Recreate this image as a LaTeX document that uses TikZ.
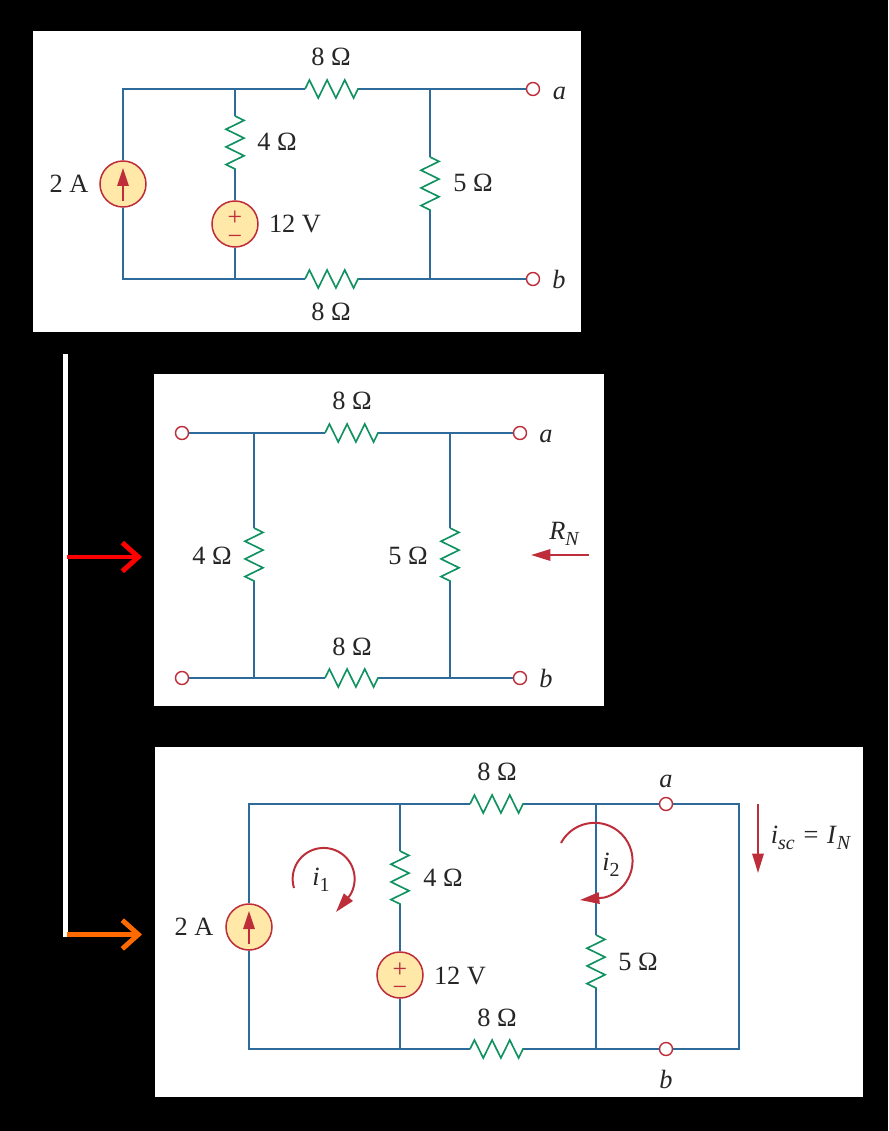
\documentclass[tikz,border=0pt]{standalone}
\usepackage{fontspec}
\setmainfont{Liberation Serif}
\usetikzlibrary{arrows.meta,decorations.pathmorphing}
\definecolor{wireblue}{HTML}{2F6B9A}
\definecolor{resgreen}{HTML}{0F9160}
\definecolor{srcred}{HTML}{BE2E3A}
\definecolor{srcfill}{HTML}{FFE8A8}
\definecolor{feedorange}{HTML}{FF6A00}
\newcommand{\lowsub}[1]{\raisebox{-0.25em}{\fontsize{17}{17}\selectfont #1}}
\tikzset{
    wire/.style={draw=wireblue,line width=1.4pt,line join=miter},
    resistor/.style={draw=resgreen,line width=1.4pt,decorate,
        decoration={zigzag,amplitude=0.27cm,segment length=0.53cm}},
    srcnode/.style={circle,draw=srcred,fill=srcfill,line width=1.3pt,minimum size=1.38cm,inner sep=0pt},
    terminal/.style={circle,draw=srcred,fill=white,line width=1.2pt,minimum size=0.39cm,inner sep=0pt},
    lbl/.style={anchor=base,inner sep=0pt,text=black!85,font=\fontsize{22.5}{24}\selectfont},
    sign/.style={anchor=base,inner sep=0pt,text=srcred,font=\fontsize{22}{22}\selectfont},
    redarrow/.style={draw=srcred,line width=1.7pt,-{Stealth[length=0.58cm,width=0.34cm,inset=0pt]}},
    srcarrow/.style={draw=srcred,line width=1.7pt,-{Stealth[length=0.54cm,width=0.34cm,inset=0pt]}},
    feedarrow/.style={line width=4.2pt,-{Straight Barb[length=0.48cm,width=0.86cm]}},
    panel/.style={fill=white,draw=none}
}
\begin{document}
\begin{tikzpicture}[x=0.03cm,y=-0.03cm]
    \useasboundingbox (0,0) rectangle (888,1131);
    \fill[black] (0,0) rectangle (888,1131);
    \fill[panel] (33,31) rectangle (581,332);
    \fill[panel] (154,374) rectangle (604,706);
    \fill[panel] (155,747) rectangle (863,1097);

    % named points of the wires
    \foreach \n/\x/\y in {ta/123/89,ja/235/89,ka/305/89,la/359/89,ma/430/89,
        tb/123/279,jb/235/279,kb/305/279,lb/359/279,mb/430/279,
        ua/235/116,va/235/170,wa/430/157,xa/430/211,
        jc/254/433,kc/325/433,lc/379/433,mc/450/433,
        jd/254/678,kd/325/678,ld/379/678,md/450/678,
        ue/254/528,ve/254/582,we/450/528,xe/450/582,
        tf/249/804,jf/400/804,kf/470/804,lf/524/804,mf/596/804,nf/739/804,
        tg/249/1049,jg/400/1049,kg/470/1049,lg/524/1049,mg/596/1049,ng/739/1049,
        uh/400/851,vh/400/905,wh/596/935,xh/596/989} {
        \coordinate (\n) at (\x,\y);
    }

    % sources and terminals
    \foreach \n/\x/\y in {isa/123/184,vsa/235/224,isc/249/927,vsc/400/975} {
        \node[srcnode] (\n) at (\x,\y) {};
    }
    \foreach \n/\x/\y in {aa/533/89,ba/533/279,lu/182/433,ll/182/678,
        ab/520/433,bb/520/678,ac/666/804,bc/666/1049} {
        \node[terminal] (\n) at (\x,\y) {};
    }

    % first circuit
    \draw[wire] (isa) -- (ta) -- (ka) (la) -- (aa) (isa) -- (tb) -- (kb) (lb) -- (ba);
    \draw[wire] (ja) -- (ua) (va) -- (vsa) -- (jb) (ma) -- (wa) (xa) -- (mb);
    % second circuit
    \draw[wire] (lu) -- (kc) (lc) -- (ab) (ll) -- (kd) (ld) -- (bb);
    \draw[wire] (jc) -- (ue) (ve) -- (jd) (mc) -- (we) (xe) -- (md);
    % third circuit
    \draw[wire] (isc) -- (tf) -- (kf) (lf) -- (ac) (ac) -- (nf) -- (ng) -- (bc) (bc) -- (lg) (kg) -- (tg) -- (isc);
    \draw[wire] (jf) -- (uh) (vh) -- (vsc) -- (jg) (mf) -- (wh) (xh) -- (mg);

    \foreach \p/\q in {ka/la,kb/lb,ua/va,wa/xa,kc/lc,kd/ld,ue/ve,we/xe,kf/lf,kg/lg,uh/vh,wh/xh} {
        \draw[resistor] (\p) -- (\q);
    }

    % arrows and signs in the sources
    \foreach \n in {isa,isc} {
        \draw[srcarrow] ([yshift=-0.51cm]\n.center) -- ([yshift=0.48cm]\n.center);
    }
    \foreach \n in {vsa,vsc} {
        \node[sign] (\n p) at ([yshift=-0.06cm]\n.center) {+};
        \node[sign] (\n m) at ([yshift=-0.615cm]\n.center) {−};
    }

    % y values are baselines
    \foreach \n/\x/\y/\t in {oa/331/66/8 Ω,ob/331/320/8 Ω,oc/277/151/4 Ω,od/473/192/5 Ω,
        oe/69/193/2 A,of/295/233/12 V,
        pa/352/409/8 Ω,pb/352/655/8 Ω,pc/212/564/4 Ω,pd/408/564/5 Ω,
        qa/497/780/8 Ω,qb/497/1026/8 Ω,qc/443/886/4 Ω,qd/638/970/5 Ω,
        qe/194/935/2 A,qf/460/984/12 V} {
        \node[lbl] (\n) at (\x,\y) {\t};
    }
    \foreach \n/\x/\y/\t in {ena/559.5/100/a,enb/559/288/b,ina/546/442/a,inb/546/687/b,
        una/666/787/a,unb/666/1088/b} {
        \node[lbl] (\n) at (\x,\y) {\textit{\t}};
    }
    \node[lbl] (rn) at (564.5,539) {\textit{R}\lowsub{\textit{N}}};
    \node[lbl] (ione) at (321,885) {\textit{i}\lowsub{1}};
    \node[lbl] (itwo) at (611,870) {\textit{i}\lowsub{2}};
    \node[lbl] (iscn) at (811,843) {\textit{i}\lowsub{\textit{sc}}\,\,=\,\,\textit{I}\lowsub{\textit{N}}};

    % measuring arrows
    \coordinate (rnstart) at (589,555);
    \coordinate (rnend) at (531,555);
    \draw[redarrow] (rnstart) -- (rnend);
    \coordinate (iscstart) at (758,804);
    \coordinate (iscend) at (758,873);
    \draw[redarrow] (iscstart) -- (iscend);

    % mesh currents
    \coordinate (meshone) at (294,888);
    \coordinate (meshonetip) at (336,912);
    \draw[redarrow] (meshone) arc[start angle=197,end angle=-32,radius=0.93cm] -- (meshonetip);
    \coordinate (meshtwo) at (561,843);
    \coordinate (meshtwotip) at (580,900);
    \draw[redarrow] (meshtwo) arc[start angle=152,end angle=-75,radius=1.14cm] -- (meshtwotip);

    % feed lines between the panels
    \coordinate (feedtop) at (65.5,354);
    \coordinate (feedbot) at (65.5,937);
    \coordinate (feedmid) at (67,557);
    \coordinate (feedlow) at (67,934.5);
    \coordinate (feedmidend) at (142,557);
    \coordinate (feedlowend) at (142,934.5);
    \draw[white,line width=4.2pt] (feedtop) -- (feedbot);
    \draw[feedarrow,red] (feedmid) -- (feedmidend);
    \draw[feedarrow,feedorange] (feedlow) -- (feedlowend);
\end{tikzpicture}
\end{document}
